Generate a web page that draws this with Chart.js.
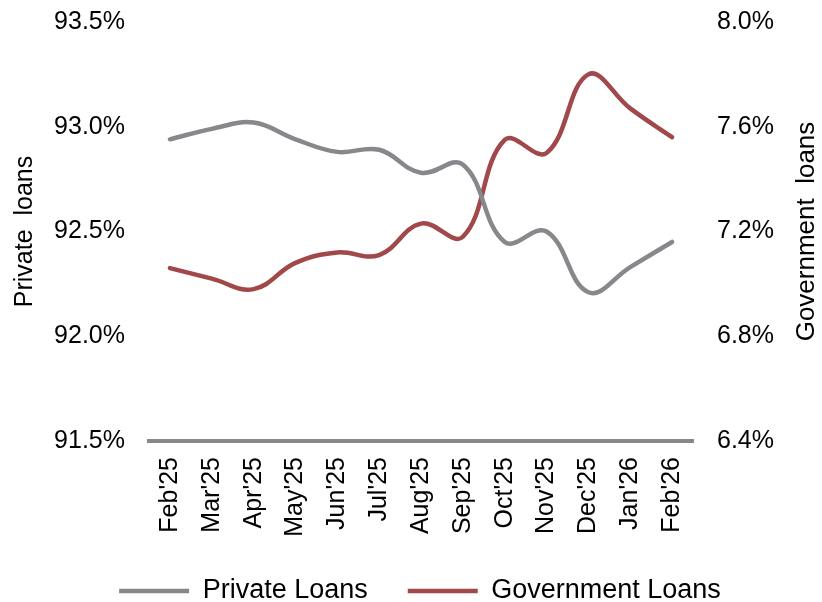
<!DOCTYPE html>
<html>
<head>
<meta charset="utf-8">
<script src="https://cdn.jsdelivr.net/npm/chart.js@4.4.1/dist/chart.umd.min.js"></script>
<style>
html,body{margin:0;padding:0;background:#fff;}
#wrap{width:822px;height:602px;position:relative;}
</style>
</head>
<body>
<div id="wrap"><canvas id="c" width="822" height="602"></canvas></div>
<script>
const categories = ["Feb'25","Mar'25","Apr'25","May'25","Jun'25","Jul'25","Aug'25","Sep'25","Oct'25","Nov'25","Dec'25","Jan'26","Feb'26"];
const privateLoans = [92.94, 92.99, 93.02, 92.94, 92.88, 92.89, 92.78, 92.82, 92.45, 92.50, 92.21, 92.33, 92.45];
const governmentLoans = [7.06, 7.02, 6.98, 7.08, 7.12, 7.11, 7.23, 7.18, 7.55, 7.50, 7.80, 7.67, 7.56];
const leftTicks = [91.5, 92.0, 92.5, 93.0, 93.5];
const rightTicks = [6.4, 6.8, 7.2, 7.6, 8.0];
const seriesNames = ["Private Loans", "Government Loans"];
const axisTitles = ["Private  loans", "Government  loans"];

const GRAY = '#87888c';
const RED = '#a0484a';
const FONT = "'Liberation Sans', Arial, sans-serif";
const LEGEND_PAD = 40;
const LEGEND_FONT = 27;

const rightTitlePlugin = {
  id: 'rightTitle',
  afterDraw(chart) {
    const ctx = chart.ctx;
    const area = chart.chartArea;
    ctx.save();
    ctx.translate(807, (area.top + area.bottom) / 2);
    ctx.rotate(-Math.PI / 2);
    ctx.font = "26px " + FONT;
    ctx.fillStyle = '#000';
    ctx.textAlign = 'center';
    ctx.textBaseline = 'middle';
    ctx.fillText(axisTitles[1], 0, 0);
    ctx.restore();
  }
};

// keep the legend box short and put its row near the bottom edge
const legendLayoutPlugin = {
  id: 'legendLayout',
  beforeLayout(chart) {
    const lg = chart.legend;
    if (lg && !lg._patched) {
      const orig = lg.fit.bind(lg);
      lg.fit = function () { orig(); this.height = 58; };
      lg._patched = true;
    }
  },
  afterLayout(chart) {
    const lg = chart.legend;
    if (!lg) return;
    const current = lg.top + LEGEND_PAD + LEGEND_FONT / 2;
    const d = 591 - current;
    lg.top += d;
    lg.bottom = chart.height;
    lg.left += 9; lg.right += 9;
    if (lg.legendHitBoxes) lg.legendHitBoxes.forEach(b => { b.top += d; b.left += 9; });
  }
};

function noPad(s) { s.paddingTop = 0; s.paddingBottom = 0; }

new Chart(document.getElementById('c'), {
  type: 'line',
  data: {
    labels: categories,
    datasets: [
      {label: seriesNames[0], data: privateLoans, yAxisID: 'y', borderColor: GRAY, backgroundColor: GRAY,
       borderWidth: 4.5, pointRadius: 0, tension: 0.4, borderCapStyle: 'round'},
      {label: seriesNames[1], data: governmentLoans, yAxisID: 'y1', borderColor: RED, backgroundColor: RED,
       borderWidth: 4.5, pointRadius: 0, tension: 0.4, borderCapStyle: 'round'}
    ]
  },
  options: {
    responsive: false,
    animation: false,
    layout: {padding: {top: 22, left: 0, right: 0, bottom: 0}},
    plugins: {
      tooltip: {enabled: false},
      legend: {
        position: 'bottom',
        labels: {
          usePointStyle: true, pointStyle: 'line', pointStyleWidth: 70,
          boxHeight: LEGEND_FONT, font: {family: FONT, size: LEGEND_FONT}, color: '#000', padding: LEGEND_PAD
        }
      }
    },
    scales: {
      x: {
        offset: true,
        grid: {display: false, drawTicks: false},
        border: {display: true, color: GRAY, width: 4},
        ticks: {font: {family: FONT, size: 25}, color: '#000', minRotation: 90, maxRotation: 90, autoSkip: false, padding: 16},
        afterFit(s) { s.height = 103; s.paddingLeft = 0; s.paddingRight = 0; }
      },
      y: {
        position: 'left', min: 91.5, max: 93.5,
        grid: {display: false, drawTicks: false},
        border: {display: false},
        afterBuildTicks(s) { s.ticks = leftTicks.map(v => ({value: v})); },
        ticks: {font: {family: FONT, size: 25}, color: '#000', padding: 24, callback: v => v.toFixed(1) + '%'},
        title: {display: true, text: axisTitles[0], font: {family: FONT, size: 25}, color: '#000', padding: {top: 10, bottom: 0}},
        afterFit(s) { s.width = 149; noPad(s); }
      },
      y1: {
        position: 'right', min: 6.4, max: 8.0,
        grid: {display: false, drawTicks: false},
        border: {display: false},
        afterBuildTicks(s) { s.ticks = rightTicks.map(v => ({value: v})); },
        ticks: {font: {family: FONT, size: 25}, color: '#000', padding: 24, callback: v => v.toFixed(1) + '%'},
        afterFit(s) { s.width = 129; noPad(s); }
      }
    }
  },
  plugins: [rightTitlePlugin, legendLayoutPlugin]
});
</script>
</body>
</html>
